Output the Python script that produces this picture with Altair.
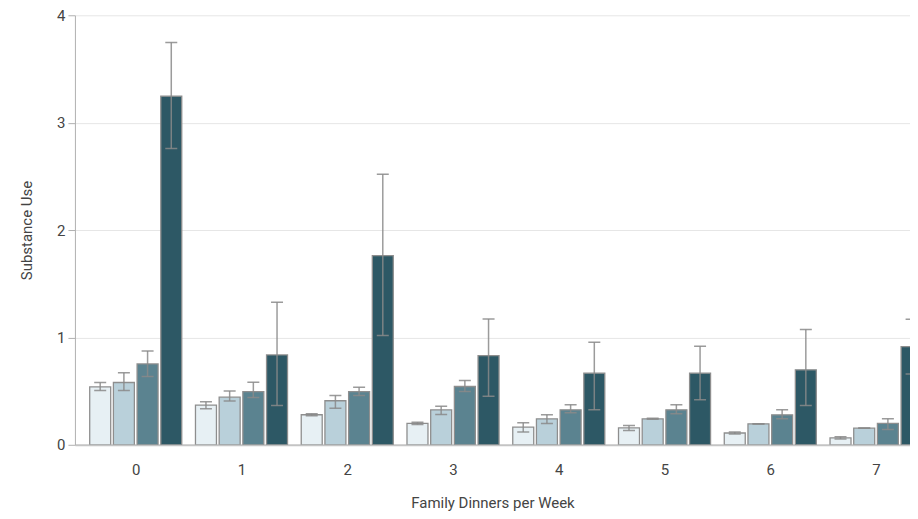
import altair as alt
import pandas as pd

groups = [0, 1, 2, 3, 4, 5, 6, 7]
series = ["Level 1", "Level 2", "Level 3", "Level 4"]
colors = ["#e7f0f4", "#b9d0da", "#5b8390", "#2d5865"]

mean_1 = [0.54, 0.37, 0.28, 0.20, 0.165, 0.158, 0.11, 0.065]
lo_1 = [0.505, 0.335, 0.27, 0.19, 0.12, 0.133, 0.10, 0.055]
hi_1 = [0.58, 0.40, 0.29, 0.21, 0.205, 0.18, 0.12, 0.075]

mean_2 = [0.58, 0.443, 0.41, 0.326, 0.242, 0.242, 0.195, 0.155]
lo_2 = [0.505, 0.407, 0.341, 0.282, 0.198, 0.237, 0.193, 0.153]
hi_2 = [0.67, 0.50, 0.459, 0.36, 0.279, 0.247, 0.197, 0.157]

mean_3 = [0.753, 0.496, 0.496, 0.543, 0.326, 0.326, 0.279, 0.20]
lo_3 = [0.636, 0.44, 0.459, 0.496, 0.298, 0.29, 0.242, 0.142]
hi_3 = [0.874, 0.583, 0.536, 0.598, 0.372, 0.372, 0.326, 0.242]

mean_4 = [3.247, 0.837, 1.761, 0.831, 0.667, 0.667, 0.698, 0.915]
lo_4 = [2.76, 0.366, 1.017, 0.453, 0.326, 0.42, 0.366, 0.66]
hi_4 = [3.746, 1.327, 2.52, 1.172, 0.955, 0.918, 1.073, 1.17]

means = [mean_1, mean_2, mean_3, mean_4]
los = [lo_1, lo_2, lo_3, lo_4]
his = [hi_1, hi_2, hi_3, hi_4]

rows = []
for k, name in enumerate(series):
    for i, g in enumerate(groups):
        rows.append({"group": g, "k": k, "series": name,
                     "mean": means[k][i], "lo": los[k][i], "hi": his[k][i]})
df = pd.DataFrame(rows)

FONT = "Roboto, sans-serif"

xscale = alt.Scale(domain=[-0.575, 7.321], nice=False, zero=False, padding=0)
yscale = alt.Scale(domain=[0, 4], nice=False, padding=0)

base = alt.Chart(df).transform_calculate(
    xpos="datum.group + (datum.k - 1.5) * 0.224"
)

xenc = alt.X("xpos:Q", scale=xscale,
             axis=alt.Axis(values=groups, format="d", ticks=False, grid=False,
                           title="Family Dinners per Week", labelPadding=18,
                           titlePadding=18, domainColor="#c4c4c4", domainWidth=2))

bars = base.mark_bar(width=21, orient="vertical", stroke="#8e8e8e",
                     strokeWidth=1.3, clip=True).encode(
    x=xenc,
    y=alt.Y("mean:Q", scale=yscale, stack=None,
            axis=alt.Axis(values=[0, 1, 2, 3, 4], format="d", title="Substance Use",
                          grid=True, gridColor="#e6e6e6", domainColor="#b0b0b0",
                          tickColor="#b0b0b0", tickSize=7, labelPadding=3,
                          titlePadding=22)),
    color=alt.Color("series:N", scale=alt.Scale(domain=series, range=colors),
                    legend=None),
)

rules = base.mark_rule(color="#8a8a8a", strokeWidth=1.5, opacity=0.85,
                       clip=True).encode(
    x="xpos:Q", y="lo:Q", y2="hi:Q")

cap_lo = base.mark_tick(orient="horizontal", size=12, thickness=1.5,
                        color="#8a8a8a", opacity=0.85, clip=True).encode(
    x="xpos:Q", y="lo:Q")
cap_hi = base.mark_tick(orient="horizontal", size=12, thickness=1.5,
                        color="#8a8a8a", opacity=0.85, clip=True).encode(
    x="xpos:Q", y="hi:Q")

chart = alt.layer(bars, rules, cap_lo, cap_hi).properties(
    width=836, height=430,
    padding={"left": 11, "top": 0, "right": 0, "bottom": 0},
    background="white",
).configure_view(stroke=None).configure_axis(
    labelFont=FONT, titleFont=FONT, labelFontSize=15, titleFontSize=15,
    labelColor="#444444", titleColor="#444444", titleFontWeight="normal",
)

chart.save("out.html", embed_options={"renderer": "svg", "actions": False})
